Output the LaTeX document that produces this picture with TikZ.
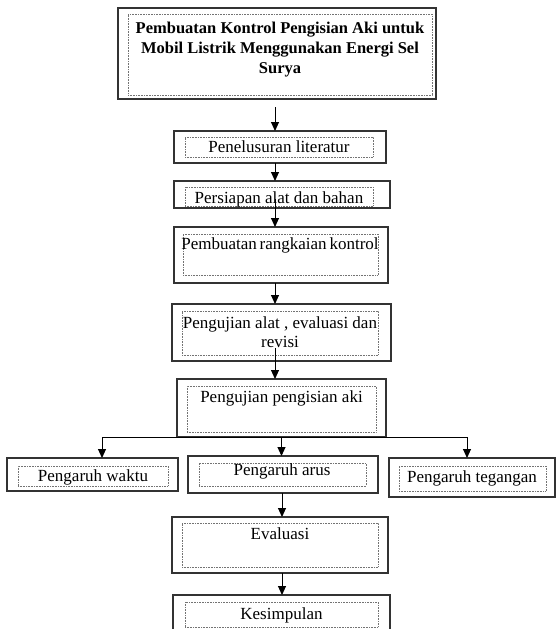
\documentclass[tikz,border=0pt]{standalone}
\usepackage{fontspec}
\setmainfont{Liberation Serif}
\usetikzlibrary{arrows.meta}

\tikzset{
  outerbox/.style={draw=black!80, line width=1.3pt, inner sep=0pt, outer sep=0pt},
  innerbox/.style={draw=black!55, densely dotted, line width=0.6pt, inner sep=0pt},
  boxtext/.style={font=\fontsize{17}{19.5}\selectfont, align=center, inner sep=0pt},
  titletext/.style={font=\fontsize{16.5}{20}\selectfont\bfseries, align=center, inner sep=0pt},
  arr/.style={-{Triangle[length=9pt,width=8pt]}, line width=1pt}
}

\begin{document}
\begin{tikzpicture}[x=1pt, y=-1pt]
    \useasboundingbox (0,0) rectangle (556,629);
    \coordinate (colA) at (275,0);
    \coordinate (colB) at (282,0);

    % judul
    \node[outerbox, minimum width=318, minimum height=91] (title) at (277,53.5) {};
    \node[innerbox, minimum width=304, minimum height=81] (ititle) at (280,54.5) {};
    \node[titletext] (ttitle) at (280,50) {Pembuatan Kontrol Pengisian Aki untuk\\Mobil Listrik Menggunakan Energi Sel\\Surya};

    % tahapan
    \node[outerbox, minimum width=212, minimum height=32] (lit) at (280,147) {};
    \node[innerbox, minimum width=188, minimum height=20] (ilit) at (279,147) {};
    \node[boxtext] (tlit) at (279,147) {Penelusuran literatur};

    \node[outerbox, minimum width=216, minimum height=27] (prep) at (282,194.5) {};
    \node[innerbox, minimum width=188, minimum height=19] (iprep) at (279,196.5) {};
    \node[boxtext] (tprep) at (279,199) {Persiapan alat dan bahan};

    \node[outerbox, minimum width=214, minimum height=56] (rkt) at (281,255) {};
    \node[innerbox, minimum width=195, minimum height=41] (irkt) at (280.5,254.5) {};
    \node[boxtext] (trkt) at (280,245) {Pembuatan\,rangkaian\,kontrol};

    \node[outerbox, minimum width=219, minimum height=57] (uji) at (281.5,332.5) {};
    \node[innerbox, minimum width=196, minimum height=44] (iuji) at (280,333) {};
    \node[boxtext] (tuji) at (280,332) {Pengujian alat , evaluasi dan\\revisi};

    \node[outerbox, minimum width=209, minimum height=58] (aki) at (281.5,408) {};
    \node[innerbox, minimum width=189, minimum height=46] (iaki) at (281.5,409) {};
    \node[boxtext] (taki) at (281.5,398) {Pengujian pengisian aki};

    % pengaruh
    \node[outerbox, minimum width=171, minimum height=33] (waktu) at (92.5,474.5) {};
    \node[innerbox, minimum width=150, minimum height=20] (iwaktu) at (93,476) {};
    \node[boxtext] (twaktu) at (93,477) {Pengaruh waktu};

    \node[outerbox, minimum width=190, minimum height=37] (arus) at (283,474.5) {};
    \node[innerbox, minimum width=167, minimum height=23] (iarus) at (282.5,474.5) {};
    \node[boxtext] (tarus) at (282,471) {Pengaruh arus};

    \node[outerbox, minimum width=166, minimum height=39] (teg) at (472,477.5) {};
    \node[innerbox, minimum width=147, minimum height=25] (iteg) at (472.5,478.5) {};
    \node[boxtext] (tteg) at (472,478) {Pengaruh tegangan};

    \node[outerbox, minimum width=216, minimum height=56] (eval) at (280,545) {};
    \node[innerbox, minimum width=196, minimum height=44] (ieval) at (280,545) {};
    \node[boxtext] (teval) at (280,534) {Evaluasi};

    \node[outerbox, minimum width=217, minimum height=50] (kes) at (281.5,620) {};
    \node[innerbox, minimum width=193, minimum height=25] (ikes) at (281.5,614.5) {};
    \node[boxtext] (tkes) at (281.5,615) {Kesimpulan};

    % panah
    \draw[arr, shorten <=8pt] (title.south -| colA) -- (lit.north -| colA);
    \draw[arr] (lit.south -| colA) -- (prep.north -| colA);
    \draw[arr] (tprep.center -| colA) -- (rkt.north -| colA);
    \draw[arr] (rkt.south -| colA) -- (uji.north -| colA);
    \draw[arr] (tuji.south -| colA) -- (aki.north -| colA);
    \draw[arr] (aki.south) -- (aki.south |- arus.north);
    \draw[arr] (aki.south) -| ([xshift=9.5pt]waktu.north);
    \draw[arr] (aki.south) -| ([xshift=-5pt]teg.north);
    \draw[arr] (arus.south -| colB) -- (eval.north -| colB);
    \draw[arr] (eval.south -| colB) -- (kes.north -| colB);
\end{tikzpicture}
\end{document}
